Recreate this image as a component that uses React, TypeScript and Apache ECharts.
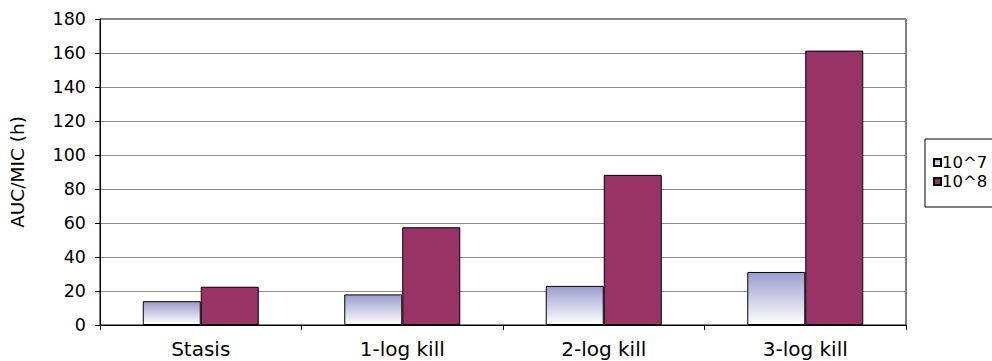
import React, { useEffect, useRef } from "react";
import * as echarts from "echarts";

const categories = ["Stasis", "1-log kill", "2-log kill", "3-log kill"];
const seriesNames = ["10^7", "10^8"];
const values1e7 = [14, 18, 23, 31.2];
const values1e8 = [22.5, 57.5, 88.3, 161.4];
const yTicks = { min: 0, max: 180, interval: 20 };

const FONT = "'DejaVu Sans', 'Liberation Sans', Arial, sans-serif";

export default function App() {
  const ref = useRef<HTMLDivElement>(null);

  useEffect(() => {
    if (!ref.current) return;
    const chart = echarts.init(ref.current, undefined, { renderer: "svg" });

    const lavender = new echarts.graphic.LinearGradient(0, 0, 0, 1, [
      { offset: 0, color: "#9c9cce" },
      { offset: 1, color: "#ffffff" },
    ]);

    chart.setOption({
      animation: false,
      backgroundColor: "#ffffff",
      textStyle: { fontFamily: FONT, color: "#000" },
      grid: {
        left: 96,
        right: 86,
        top: 19,
        bottom: 36,
        show: true,
        borderColor: "#000",
        borderWidth: 1,
        backgroundColor: "transparent",
      },
      legend: {
        orient: "vertical",
        left: 925,
        top: 139,
        padding: [15, 60, 17, 8],
        itemGap: 2,
        itemWidth: 7,
        itemHeight: 7,
        icon: "rect",
        borderColor: "#000",
        borderWidth: 1,
        borderRadius: 0,
        textStyle: { fontFamily: FONT, fontSize: 16.5, color: "#000", padding: [0, 0, 0, -4], lineHeight: 16 },
        data: seriesNames,
      },
      xAxis: {
        type: "category",
        data: categories,
        boundaryGap: true,
        axisLine: { lineStyle: { color: "#000", width: 1 } },
        axisTick: { show: true, length: 5, inside: false, lineStyle: { color: "#000" } },
        axisLabel: { fontSize: 20, color: "#000", margin: 14, fontFamily: FONT },
        splitLine: { show: false },
      },
      yAxis: {
        type: "value",
        min: yTicks.min,
        max: yTicks.max,
        interval: yTicks.interval,
        name: "AUC/MIC (h)",
        nameLocation: "middle",
        nameRotate: 90,
        nameGap: 73,
        nameTextStyle: { fontSize: 18.5, color: "#000", fontFamily: FONT },
        axisLine: { show: true, lineStyle: { color: "#000", width: 1 } },
        axisTick: { show: true, length: 5, inside: false, lineStyle: { color: "#000" } },
        axisLabel: { fontSize: 17.5, color: "#000", margin: 14, fontFamily: FONT },
        splitLine: { show: true, lineStyle: { color: "#8c8c8c", width: 1 } },
      },
      series: [
        {
          name: seriesNames[0],
          type: "bar",
          data: values1e7,
          barWidth: 58,
          barGap: "0%",
          itemStyle: { color: lavender, borderColor: "#000", borderWidth: 1 },
        },
        {
          name: seriesNames[1],
          type: "bar",
          data: values1e8,
          barWidth: 58,
          barGap: "0%",
          itemStyle: { color: "#993366", borderColor: "#000", borderWidth: 1 },
        },
      ],
    });

    return () => chart.dispose();
  }, []);

  return (
    <div
      ref={ref}
      style={{ position: "fixed", left: 0, top: 0, width: 992, height: 361 }}
    />
  );
}
